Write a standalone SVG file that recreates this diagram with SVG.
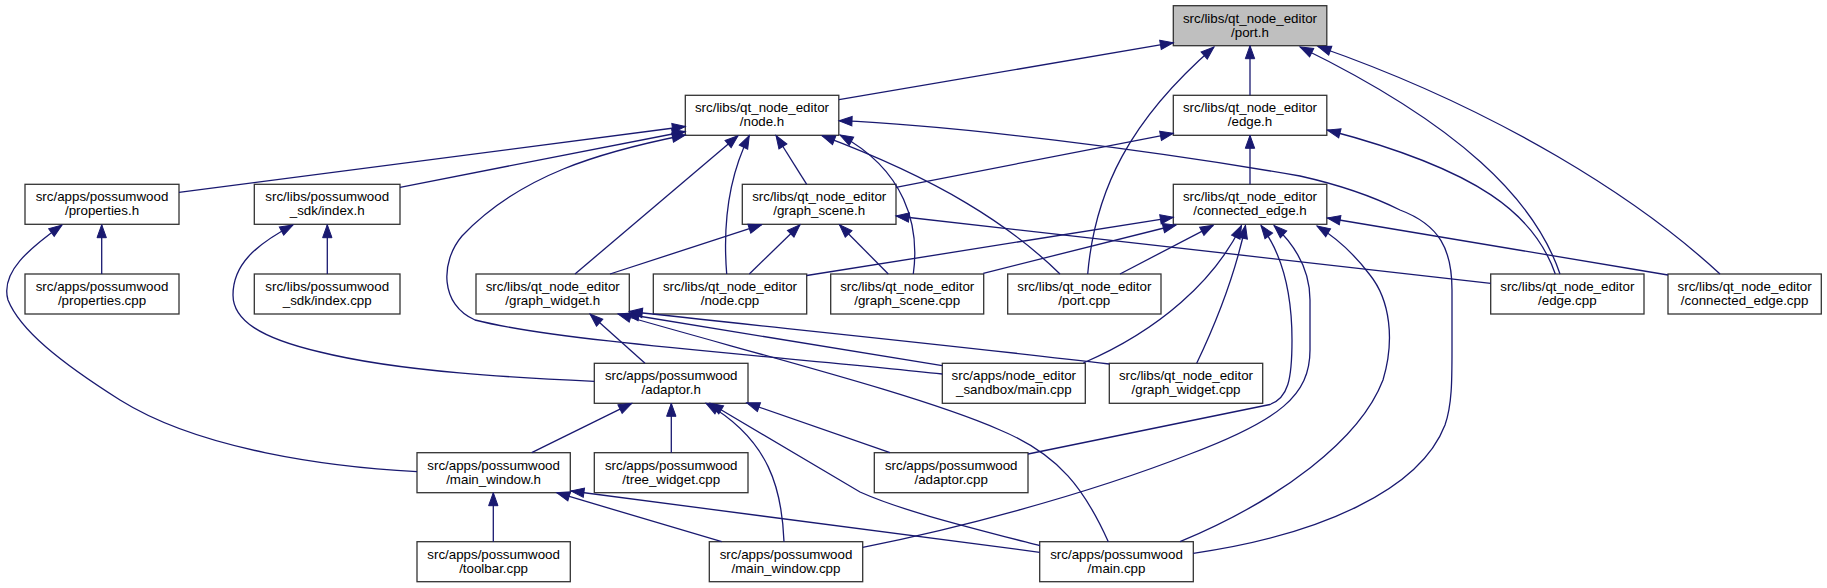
<svg xmlns="http://www.w3.org/2000/svg" width="1827" height="588" viewBox="0 0 1827 588">
<defs>
<style>
.n rect{fill:#ffffff;stroke:#333333;stroke-width:1.3}
.n.g rect{fill:#bfbfbf}
.n text{font-family:"Liberation Sans",Arial,Helvetica,sans-serif;font-size:13.33px;fill:#000000;text-anchor:middle}
.e path{fill:none;stroke:#191970;stroke-width:1.3;marker-end:url(#ah)}
</style>
<marker id="ah" markerUnits="userSpaceOnUse" markerWidth="15" markerHeight="12" refX="13" refY="5.5" orient="auto" overflow="visible">
<path d="M0,0.8 L13,5.5 L0,10.2 z" fill="#191970" stroke="#191970" stroke-width="1"/>
</marker>
</defs>
<rect x="0" y="0" width="1827" height="588" fill="#ffffff"/>

<g id="nodes">
<g id="n_port_h" class="n g"><rect x="1173.3" y="5.7" width="153.5" height="40"/><text x="1250" y="22.5"><tspan x="1250">src/libs/qt_node_editor</tspan><tspan x="1250" dy="14">/port.h</tspan></text></g>
<g id="n_node_h" class="n"><rect x="685.3" y="95.3" width="153.5" height="40"/><text x="762" y="112.1"><tspan x="762">src/libs/qt_node_editor</tspan><tspan x="762" dy="14">/node.h</tspan></text></g>
<g id="n_edge_h" class="n"><rect x="1173.3" y="95.3" width="153.5" height="40"/><text x="1250" y="112.1"><tspan x="1250">src/libs/qt_node_editor</tspan><tspan x="1250" dy="14">/edge.h</tspan></text></g>
<g id="n_properties_h" class="n"><rect x="25" y="184.3" width="154" height="40"/><text x="102" y="201.1"><tspan x="102">src/apps/possumwood</tspan><tspan x="102" dy="14">/properties.h</tspan></text></g>
<g id="n_index_h" class="n"><rect x="254.3" y="184.3" width="145.7" height="40"/><text x="327.2" y="201.1"><tspan x="327.2">src/libs/possumwood</tspan><tspan x="327.2" dy="14">_sdk/index.h</tspan></text></g>
<g id="n_graph_scene_h" class="n"><rect x="742.3" y="184.3" width="153.7" height="40"/><text x="819.2" y="201.1"><tspan x="819.2">src/libs/qt_node_editor</tspan><tspan x="819.2" dy="14">/graph_scene.h</tspan></text></g>
<g id="n_connected_edge_h" class="n"><rect x="1173.3" y="184.3" width="153.5" height="40"/><text x="1250" y="201.1"><tspan x="1250">src/libs/qt_node_editor</tspan><tspan x="1250" dy="14">/connected_edge.h</tspan></text></g>
<g id="n_properties_cpp" class="n"><rect x="25" y="274" width="154" height="40"/><text x="102" y="290.8"><tspan x="102">src/apps/possumwood</tspan><tspan x="102" dy="14">/properties.cpp</tspan></text></g>
<g id="n_index_cpp" class="n"><rect x="254.3" y="274" width="145.7" height="40"/><text x="327.2" y="290.8"><tspan x="327.2">src/libs/possumwood</tspan><tspan x="327.2" dy="14">_sdk/index.cpp</tspan></text></g>
<g id="n_graph_widget_h" class="n"><rect x="476" y="274" width="153.3" height="40"/><text x="552.7" y="290.8"><tspan x="552.7">src/libs/qt_node_editor</tspan><tspan x="552.7" dy="14">/graph_widget.h</tspan></text></g>
<g id="n_node_cpp" class="n"><rect x="653.3" y="274" width="153.4" height="40"/><text x="730" y="290.8"><tspan x="730">src/libs/qt_node_editor</tspan><tspan x="730" dy="14">/node.cpp</tspan></text></g>
<g id="n_graph_scene_cpp" class="n"><rect x="830.7" y="274" width="153" height="40"/><text x="907.2" y="290.8"><tspan x="907.2">src/libs/qt_node_editor</tspan><tspan x="907.2" dy="14">/graph_scene.cpp</tspan></text></g>
<g id="n_port_cpp" class="n"><rect x="1007.7" y="274" width="153.3" height="40"/><text x="1084.3" y="290.8"><tspan x="1084.3">src/libs/qt_node_editor</tspan><tspan x="1084.3" dy="14">/port.cpp</tspan></text></g>
<g id="n_edge_cpp" class="n"><rect x="1490.7" y="274" width="153.3" height="40"/><text x="1567.3" y="290.8"><tspan x="1567.3">src/libs/qt_node_editor</tspan><tspan x="1567.3" dy="14">/edge.cpp</tspan></text></g>
<g id="n_connected_edge_cpp" class="n"><rect x="1668" y="274" width="153.3" height="40"/><text x="1744.6" y="290.8"><tspan x="1744.6">src/libs/qt_node_editor</tspan><tspan x="1744.6" dy="14">/connected_edge.cpp</tspan></text></g>
<g id="n_adaptor_h" class="n"><rect x="594.3" y="363.3" width="153.7" height="40"/><text x="671.2" y="380.1"><tspan x="671.2">src/apps/possumwood</tspan><tspan x="671.2" dy="14">/adaptor.h</tspan></text></g>
<g id="n_sandbox_main_cpp" class="n"><rect x="942.3" y="363.3" width="143" height="40"/><text x="1013.8" y="380.1"><tspan x="1013.8">src/apps/node_editor</tspan><tspan x="1013.8" dy="14">_sandbox/main.cpp</tspan></text></g>
<g id="n_graph_widget_cpp" class="n"><rect x="1109.3" y="363.3" width="153.4" height="40"/><text x="1186" y="380.1"><tspan x="1186">src/libs/qt_node_editor</tspan><tspan x="1186" dy="14">/graph_widget.cpp</tspan></text></g>
<g id="n_main_window_h" class="n"><rect x="417" y="452.7" width="153.3" height="40"/><text x="493.6" y="469.5"><tspan x="493.6">src/apps/possumwood</tspan><tspan x="493.6" dy="14">/main_window.h</tspan></text></g>
<g id="n_tree_widget_cpp" class="n"><rect x="594.3" y="452.7" width="153.7" height="40"/><text x="671.2" y="469.5"><tspan x="671.2">src/apps/possumwood</tspan><tspan x="671.2" dy="14">/tree_widget.cpp</tspan></text></g>
<g id="n_adaptor_cpp" class="n"><rect x="874.3" y="452.7" width="153.7" height="40"/><text x="951.2" y="469.5"><tspan x="951.2">src/apps/possumwood</tspan><tspan x="951.2" dy="14">/adaptor.cpp</tspan></text></g>
<g id="n_toolbar_cpp" class="n"><rect x="417" y="541.7" width="153.3" height="40"/><text x="493.6" y="558.5"><tspan x="493.6">src/apps/possumwood</tspan><tspan x="493.6" dy="14">/toolbar.cpp</tspan></text></g>
<g id="n_main_window_cpp" class="n"><rect x="709.3" y="541.7" width="153.4" height="40"/><text x="786" y="558.5"><tspan x="786">src/apps/possumwood</tspan><tspan x="786" dy="14">/main_window.cpp</tspan></text></g>
<g id="n_main_cpp" class="n"><rect x="1039.7" y="541.7" width="153.6" height="40"/><text x="1116.5" y="558.5"><tspan x="1116.5">src/apps/possumwood</tspan><tspan x="1116.5" dy="14">/main.cpp</tspan></text></g>
</g>

<g id="edges" class="e">
<path d="M839,99.7 L1173.3,42.7"/>
<path d="M1250,95.3 L1250,45.7"/>
<path d="M1087.7,274 C1095,190 1130,120 1214,47"/>
<path d="M1560,274 C1535,200 1460,125 1300,47"/>
<path d="M1720,274 C1640,200 1500,110 1318,46.5"/>
<path d="M179,192.3 L685.3,126.5"/>
<path d="M400,187.3 L685.3,131.5"/>
<path d="M942.3,374 C800,358 560,342 475,320 C440,305 440,262 462,236 C520,175 600,152 685.3,135"/>
<path d="M575,274 L738,135.7"/>
<path d="M726.7,274 C722,215 732,170 749.3,135.5"/>
<path d="M806.7,184.3 L776,135.5"/>
<path d="M1060,274 C1010,225 940,180 822,135.7"/>
<path d="M913.3,274 C920,225 905,170 840,135"/>
<path d="M1193.3,553.3 C1320,535 1420,490 1445,425 C1452,405 1452,380 1452,350 L1452,290 C1452,250 1440,225 1400,210 C1370,195 1340,185 1300,176 C1150,150 950,125 839,120.7"/>
<path d="M896,187.3 L1173.3,133.3"/>
<path d="M1250,184.3 L1250,135.3"/>
<path d="M1555.3,274 C1535,215 1480,170 1327.3,130"/>
<path d="M610,274 L761.7,224.7"/>
<path d="M749.3,274 L800,224.7"/>
<path d="M888.3,274 L839.5,224.7"/>
<path d="M1490.7,283.3 L896,216"/>
<path d="M806.7,275.5 L1173.3,217.3"/>
<path d="M983.3,273.3 L1176,225"/>
<path d="M1120,274 L1213.3,225.3"/>
<path d="M1083.3,363 C1160,330 1215,280 1241.5,225.5"/>
<path d="M1196.7,363.3 C1215,325 1235,275 1245.5,225.5"/>
<path d="M1028,454 L1270,404.5 C1288,398 1292,380 1292,340 C1292,295 1283,255 1261,225.5"/>
<path d="M862.7,547.3 C950,530 1080,497 1190,454 C1280,420 1310,395 1310,350 L1310,300 C1310,270 1295,245 1274,225.5"/>
<path d="M1180,541.7 C1280,500 1360,440 1383,380 C1395,340 1390,300 1370,275 C1355,255 1340,240 1317,226"/>
<path d="M1668,275 L1327.3,218"/>
<path d="M645,363.3 L590,314"/>
<path d="M942.3,365.7 L626,314"/>
<path d="M1109.3,364 C950,345 750,325 629.3,311.5"/>
<path d="M1108.3,541.7 C1085,490 1060,455 1000,430 C920,395 760,355 618,314"/>
<path d="M594.3,381.3 C520,378 400,372 320,352 C260,338 233,320 233,295 C233,265 255,245 293,225"/>
<path d="M417,471.7 C330,467 200,450 120,400 C60,362 20,330 8,300 C0,272 30,248 62,225"/>
<path d="M531.7,452.7 L631.7,403.3"/>
<path d="M671.3,452.7 L671.3,403.3"/>
<path d="M784,541.7 C782,490 770,440 706,403.3"/>
<path d="M1040,545.7 C960,525 900,510 860,492 L710,403.3"/>
<path d="M890,452.7 L746.7,402.8"/>
<path d="M493.3,541.7 L493.3,492.7"/>
<path d="M721.7,541.7 L556.7,492.7"/>
<path d="M1039.7,552.3 L571,491"/>
<path d="M101.7,274 L101.7,224.7"/>
<path d="M327.3,274 L327.3,224.7"/>
</g>
</svg>
